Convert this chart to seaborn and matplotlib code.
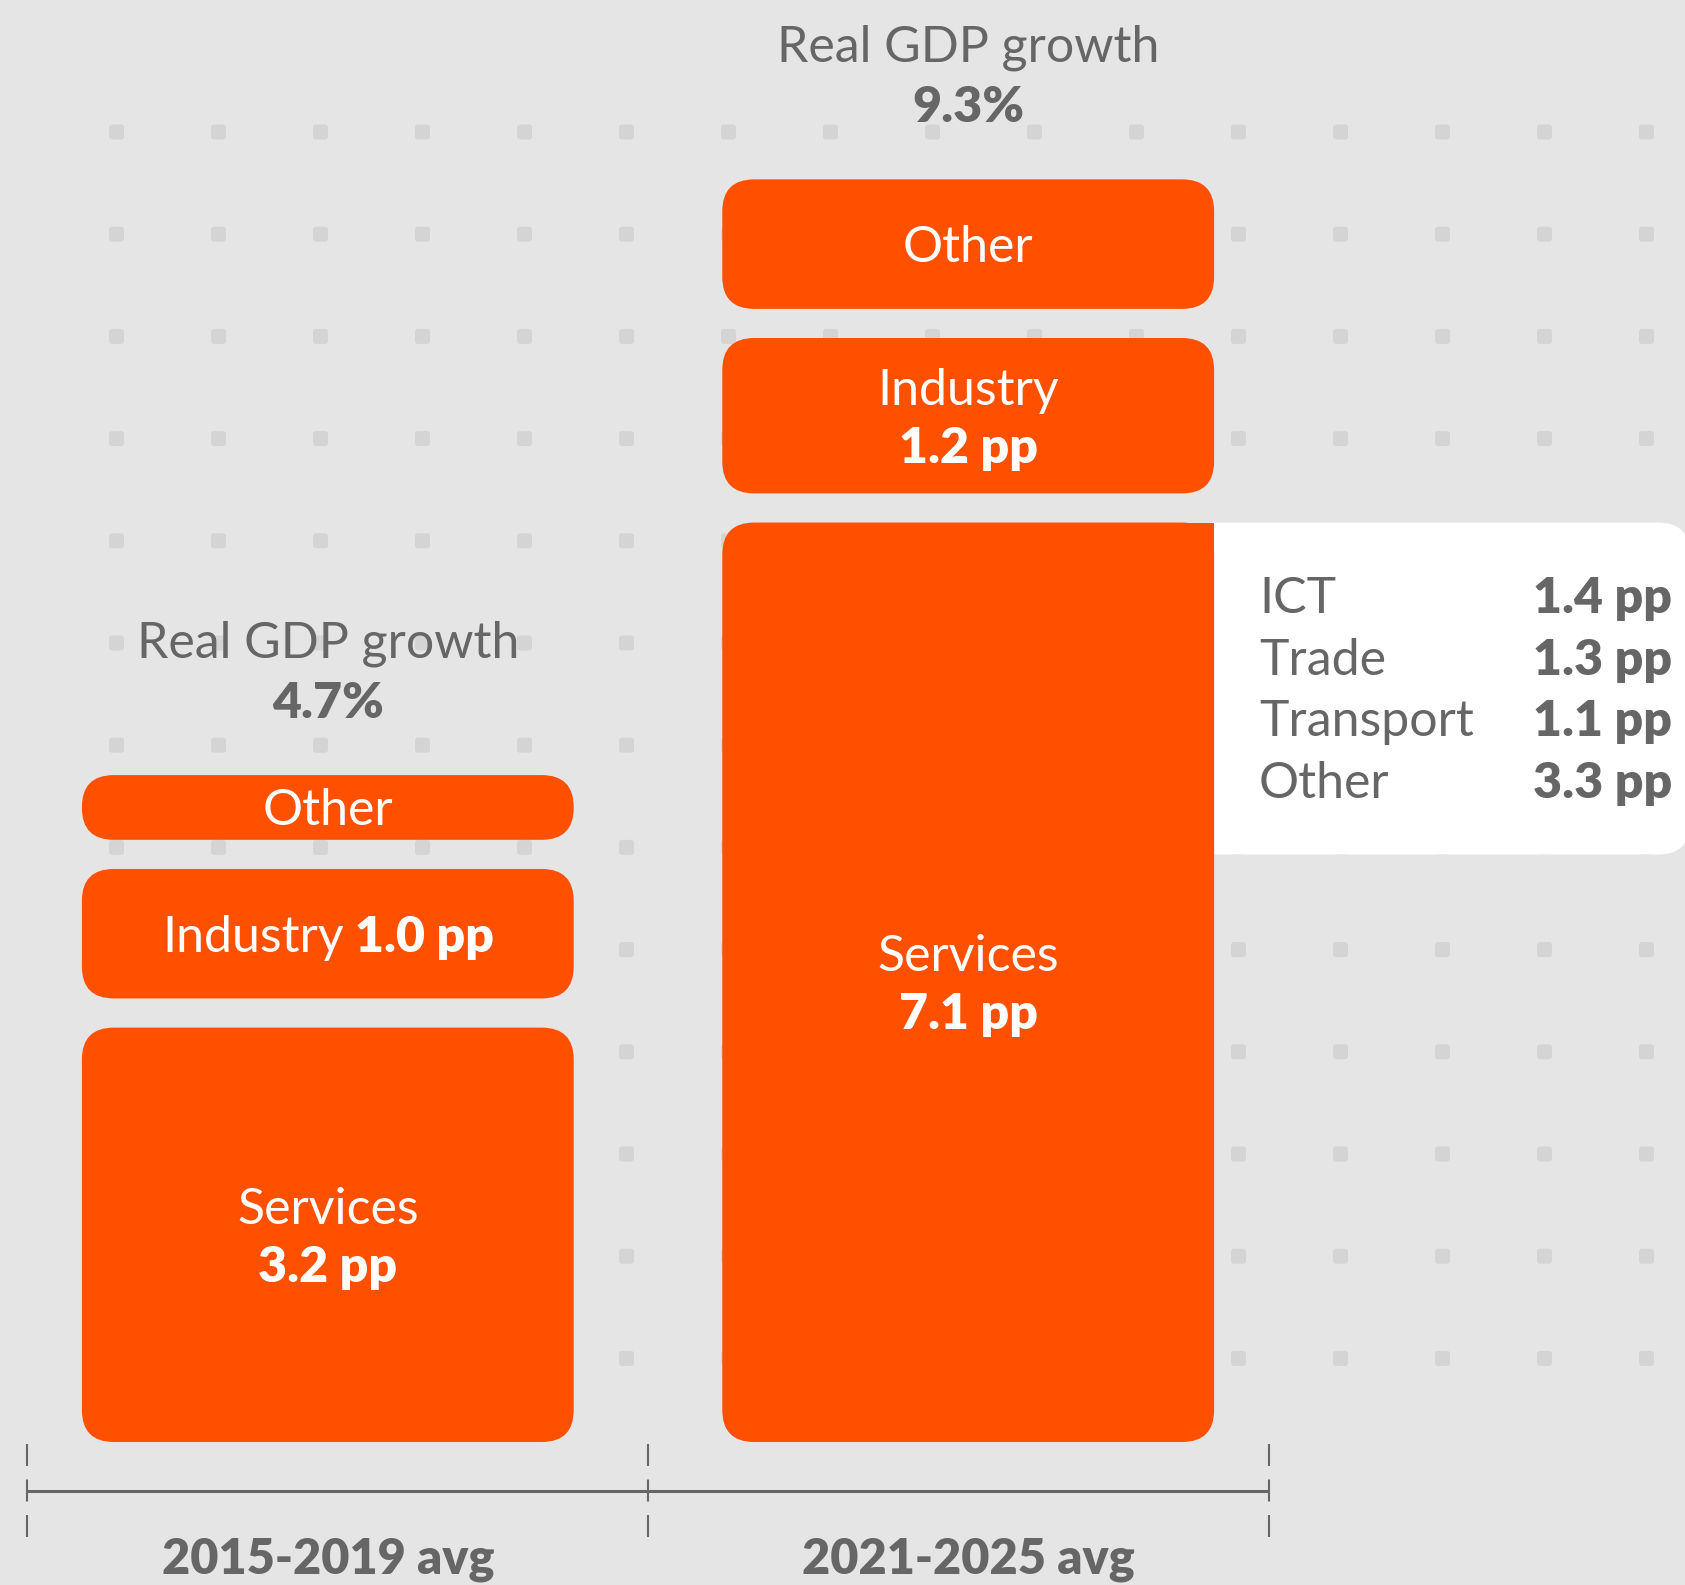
import numpy as np
import pandas as pd
import matplotlib
matplotlib.use("Agg")
import matplotlib.pyplot as plt
from matplotlib.patches import FancyBboxPatch, Rectangle
import seaborn as sns

# ---- data (percentage points of real GDP growth) ----
periods = ["2015-2019 avg", "2021-2025 avg"]
gdp_growth = [4.7, 9.3]
services_pp = [3.2, 7.1]
industry_pp = [1.0, 1.2]
other_pp = [0.5, 1.0]
services_parts = ["ICT", "Trade", "Transport", "Other"]
services_parts_pp = [1.4, 1.3, 1.1, 3.3]

# ---- style ----
ORANGE = "#ff5000"
BG = "#e5e5e5"
DOT = "#d4d4d4"
GREY = "#666666"

W_PX, H_PX = 1685, 1585
PX_PER_PP = 129.5      # vertical scale
PX_PER_CAT = 640.4     # distance between the two bars
CAT0_PX = 327.8        # centre of first bar
BASE_PX = 1442         # zero line (from top)
GAP = 0.225            # gap between stacked blocks, in pp
BAR_W = 0.768
RADIUS_PX = 32
PT = 72 / 100          # px -> points

FS = 36                # regular text
FSB = 36               # bold text
BOLD = 800
CAP = 0.7165           # cap height of Lato (em)

sns.set_theme(style="white")
plt.rcParams["font.family"] = ["Lato", "DejaVu Sans"]
plt.rcParams["lines.scale_dashes"] = False

fig = plt.figure(figsize=(W_PX / 100, H_PX / 100), dpi=100, facecolor=BG)

# dotted background grid (pixel coordinates)
ax_bg = fig.add_axes([0, 0, 1, 1], zorder=0)
ax_bg.set_xlim(0, W_PX)
ax_bg.set_ylim(H_PX, 0)
ax_bg.set_facecolor(BG)
ax_bg.axis("off")
for gx in 116.5 + 102.0 * np.arange(16):
    for gy in 132 + 102.2 * np.arange(13):
        ax_bg.add_patch(FancyBboxPatch((gx - 4.5, gy - 4.5), 9, 9,
                                       boxstyle="round,pad=3", fc=DOT, ec="none"))

# main axes
ax = fig.add_axes([0, 0, 1, 1], zorder=1)
ax.patch.set_alpha(0)

rows = []
for i, p in enumerate(periods):
    bottom = 0.0
    for seg, vals in [("Services", services_pp), ("Industry", industry_pp), ("Other", other_pp)]:
        rows.append(dict(period=p, segment=seg, value=vals[i], bottom=bottom))
        bottom += vals[i] + GAP
df = pd.DataFrame(rows)

for seg in ["Services", "Industry", "Other"]:
    sub = df[df.segment == seg]
    sns.barplot(data=sub, x="period", y="value", order=periods,
                bottom=sub["bottom"].to_numpy(), width=BAR_W,
                color=ORANGE, saturation=1, errorbar=None, ax=ax)

ax.set_xlim(-CAT0_PX / PX_PER_CAT, (W_PX - CAT0_PX) / PX_PER_CAT)
ax.set_ylim(-(H_PX - BASE_PX) / PX_PER_PP, BASE_PX / PX_PER_PP)
ax.axis("off")

# round the corners of the bars
aspect = PX_PER_CAT / PX_PER_PP
r = RADIUS_PX / PX_PER_CAT
for b in list(ax.patches):
    x0, y0, w, h = b.get_x(), b.get_y(), b.get_width(), b.get_height()
    b.remove()
    ax.add_patch(FancyBboxPatch((x0, y0), w, h, boxstyle=f"round,pad=0,rounding_size={r}",
                                mutation_aspect=aspect, fc=ORANGE, ec="none", zorder=2))

# white breakdown panel next to the 2021-2025 services block
right_edge = 1 + BAR_W / 2
top = services_pp[1]
panel_h = 332 / PX_PER_PP
panel_end = (1690 - CAT0_PX) / PX_PER_CAT
ax.add_patch(FancyBboxPatch((right_edge - r, top - panel_h), panel_end - right_edge + r, panel_h,
                            boxstyle=f"round,pad=0,rounding_size={r}", mutation_aspect=aspect,
                            fc="white", ec="none", zorder=1.5))
ax.add_patch(Rectangle((right_edge - r, top - panel_h), r, panel_h, fc=ORANGE, ec="none", zorder=2))

for i, (lab, val) in enumerate(zip(services_parts, services_parts_pp)):
    dy = -(72.5 + 61.7 * i) * PT - CAP * FS / 2
    ax.annotate(lab, (right_edge, top), xytext=(45 * PT, dy), textcoords="offset points",
                ha="left", va="baseline", fontsize=FS, color=GREY, zorder=3)
    ax.annotate(f"{val:.1f} pp", (panel_end, top), xytext=(-18 * PT, dy), textcoords="offset points",
                ha="right", va="baseline", fontsize=FSB, fontweight=BOLD, color=GREY, zorder=3,
                annotation_clip=False)

# labels inside the blocks
renderer = fig.canvas.get_renderer()
for _, row in df.iterrows():
    i = periods.index(row.period)
    cy = row.bottom + row.value / 2
    kw = dict(textcoords="offset points", va="baseline", color="white", zorder=3)
    if row.segment == "Other":
        ax.annotate("Other", (i, cy), xytext=(0, -CAP * FS / 2), ha="center", fontsize=FS, **kw)
    elif row.value * PX_PER_PP < 140:
        t1 = ax.annotate(row.segment, (i, cy), xytext=(0, -CAP * FS / 2), ha="left", fontsize=FS, **kw)
        t2 = ax.annotate(f"{row.value:.1f} pp", (i, cy), xytext=(0, -CAP * FSB / 2), ha="left",
                         fontsize=FSB, fontweight=BOLD, **kw)
        w1 = t1.get_window_extent(renderer).width
        w2 = t2.get_window_extent(renderer).width
        space = 11
        total = w1 + space + w2
        t1.xyann = (-total / 2 * PT, -CAP * FS / 2)
        t2.xyann = ((-total / 2 + w1 + space) * PT, -CAP * FSB / 2)
    else:
        ax.annotate(row.segment, (i, cy), xytext=(0, 29 * PT - CAP * FS / 2), ha="center", fontsize=FS, **kw)
        ax.annotate(f"{row.value:.1f} pp", (i, cy), xytext=(0, -29 * PT - CAP * FSB / 2), ha="center",
                    fontsize=FSB, fontweight=BOLD, **kw)

# totals above the stacks
for i, g in enumerate(gdp_growth):
    stack_top = df[df.period == periods[i]].eval("bottom + value").max()
    ax.annotate("Real GDP growth", (i, stack_top), xytext=(0, 118 * PT), textcoords="offset points",
                ha="center", va="baseline", fontsize=FS, color=GREY, zorder=3)
    ax.annotate(f"{g:.1f}%", (i, stack_top), xytext=(0, 57 * PT), textcoords="offset points",
                ha="center", va="baseline", fontsize=FSB, fontweight=BOLD, color=GREY, zorder=3)

# period axis
edges = [-0.47, 0.5, 1.47]
axis_y = -(1490.5 - BASE_PX) / PX_PER_PP
ax.plot([edges[0], edges[-1]], [axis_y, axis_y], color=GREY, lw=2.2, solid_capstyle="butt")
ax.vlines(edges, -(1537 - BASE_PX) / PX_PER_PP, 0, colors=GREY, lw=1.5,
          linestyles=[(0, (22 * PT, 13.5 * PT))])
for i, p in enumerate(periods):
    ax.text(i, -(1574 - BASE_PX) / PX_PER_PP, p, ha="center", va="baseline",
            fontsize=35, fontweight=BOLD, color=GREY)

fig.savefig("out.png", dpi=100, facecolor=BG)
